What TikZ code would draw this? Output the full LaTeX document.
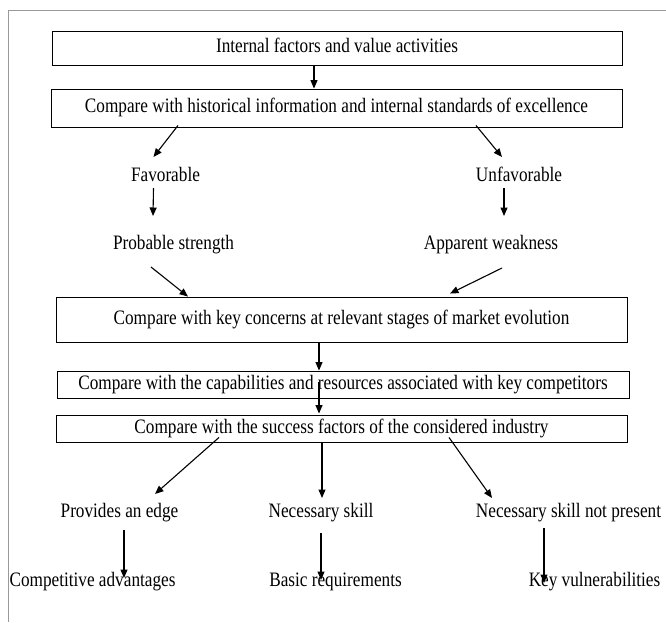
\documentclass[tikz,border=0pt]{standalone}
\usepackage{fontspec}
\setmainfont{Liberation Serif}[FakeStretch=0.84]
\usetikzlibrary{arrows.meta,calc}

\begin{document}
\begin{tikzpicture}[x=1pt,y=-1pt,
  every node/.style={font=\fontsize{20.5}{24}\selectfont, inner sep=0pt,
    text height=13.6pt, text depth=4.3pt},
  stagebox/.style={draw=black, line width=0.9pt, align=center},
  lbl/.style={},
  arr/.style={draw=black, line width=1.1pt, -{Triangle[length=8.5pt,width=7pt]}},
  framel/.style={draw=black!40, line width=1.3pt}
]
\useasboundingbox (0,0) rectangle (666,622);

% page frame (top and left edges)
\coordinate (fTL) at (8.5,10.5);
\coordinate (fTR) at (666,10.5);
\coordinate (fBL) at (8.5,622);
\draw[framel] (fTR) -- (fTL) -- (fBL);

% stage boxes
\node[stagebox, minimum width=570pt, minimum height=34pt] (b1) at (337,48)
  {Internal factors and value activities};
\node[stagebox, minimum width=571pt, minimum height=38pt] (b2) at (336.5,108)
  {Compare with historical information and internal standards of excellence};
\node[stagebox, minimum width=571pt, minimum height=45pt] (b3) at (341.5,319.5)
  {Compare with key concerns at relevant stages of market evolution};
\node[stagebox, minimum width=572pt, minimum height=27pt] (b4) at (343,384.5)
  {Compare with the capabilities and resources associated with key competitors};
\node[stagebox, minimum width=571pt, minimum height=27pt] (b5) at (341.5,428.5)
  {Compare with the success factors of the considered industry};

% outcome labels
\node[lbl] (fav)   at (165.5,177) {Favorable};
\node[lbl] (unf)   at (519,177)   {Unfavorable};
\node[lbl] (prob)  at (173.5,245) {Probable strength};
\node[lbl] (app)   at (491,245)   {Apparent weakness};
\node[lbl] (prov)  at (119.5,513) {Provides an edge};
\node[lbl] (nec)   at (321,513)   {Necessary skill};
\node[lbl] (notp)  at (568.5,513) {Necessary skill not present};
\node[lbl] (comp)  at (92.5,582)  {Competitive advantages};
\node[lbl] (basic) at (335.5,582) {Basic requirements};
\node[lbl] (key)   at (594.5,582) {Key vulnerabilities};

% connectors
\draw[arr] (b1.south -| 314,0) -- (b2.north -| 314,0);
\draw[arr] ($(b2.south)+(-158.5,-2)$) -- ($(fav)+(-12,-20)$);
\draw[arr] ($(b2.south)+(139.5,-2)$) -- ($(unf)+(-17,-20)$);
\draw[arr] ($(fav)+(-12,11)$) -- ($(prob)+(-20.5,-29)$);
\draw[arr] ($(unf)+(-15,11)$) -- ($(app)+(13,-29)$);
\draw[arr] ($(prob)+(-22.5,22)$) -- (b3.north -| 188,0);
\draw[arr] ($(app)+(11,23)$) -- ($(b3.north -| 450,0)+(0,-3)$);
\draw[arr] (b3.south -| 319,0) -- (b4.north -| 319,0);
\draw[arr] ($(b4.south -| 319,0)+(0,-16)$) -- ($(b5.north -| 319,0)+(0,-1)$);
\draw[arr] ($(b5.south -| 219,0)+(0,-5)$) -- ($(prov)+(35.5,-19)$);
\draw[arr] (b5.south -| 322,0) -- ($(nec)+(1,-15)$);
\draw[arr] ($(b5.south -| 449,0)+(0,-5)$) -- ($(notp)+(-76.5,-15)$);
\draw[arr] ($(prov)+(4.5,17)$) -- ($(comp)+(31.5,-4)$);
\draw[arr] ($(nec)+(0,20)$) -- ($(basic)+(-14.5,-2)$);
\draw[arr] ($(notp)+(-24.5,15)$) -- ($(key)+(-50.5,1)$);
\end{tikzpicture}
\end{document}
